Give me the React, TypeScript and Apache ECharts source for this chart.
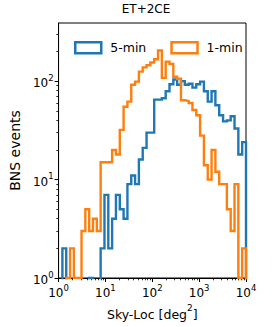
import React, { useEffect, useRef } from "react";
import * as echarts from "echarts";

const TITLE = "ET+2CE";
const SERIES_NAMES = ["5-min", "1-min"];
const SERIES_COLORS = ["#1f77b4", "#ff7f0e"];
const Y_NAME = "BNS events";
const X_NAME_MAIN = "Sky-Loc [deg";
const X_NAME_SUP = "2";
const X_NAME_END = "]";

// histogram binning: 49 log-spaced bins between 10^0 and 10^4
const BIN_EXP_MIN = 0;
const BIN_EXP_MAX = 4;
const N_BINS = 49;

// counts per bin
const fiveMinCounts = [
  0, 2, 0, 0, 0, 0, 0, 0, 1, 0,
  0, 2, 7, 2, 4, 7, 5, 4, 9, 11,
  9, 16, 21, 30, 30, 65, 65, 67, 79, 93,
  104, 92, 100, 92, 94, 86, 93, 99, 79, 62,
  79, 57, 45, 39, 40, 44, 33, 18, 24,
];
const oneMinCounts = [
  0, 0, 1, 2, 1, 1, 3, 5, 3, 4,
  3, 15, 15, 15, 20, 18, 32, 55, 62, 92,
  99, 125, 138, 145, 155, 167, 205, 108, 158, 150,
  111, 106, 64, 63, 60, 51, 45, 28, 14, 10,
  20, 12, 9, 9, 5, 3, 9, 1, 2,
];

const X_MIN = 1;
const X_MAX = 10000;
const Y_MIN = 1;
const Y_MAX = 390;
const X_MAJOR = [1, 10, 100, 1000, 10000];
const Y_MAJOR = [1, 10, 100];
const MINOR_MULTIPLIERS = [2, 3, 4, 5, 6, 7, 8, 9];

const FONT = "DejaVu Sans";
const FLOOR = 0.05; // zero counts fall below the log axis and get clipped

function minorTicks(majors: number[], max: number) {
  const out: number[] = [];
  majors.forEach((m) => MINOR_MULTIPLIERS.forEach((k) => { if (m * k < max) out.push(m * k); }));
  return out;
}

function stepData(counts: number[]) {
  const edges: number[] = [];
  for (let i = 0; i <= N_BINS; i++) edges.push(Math.pow(10, BIN_EXP_MIN + ((BIN_EXP_MAX - BIN_EXP_MIN) * i) / N_BINS));
  const pts: number[][] = [[edges[0], FLOOR]];
  counts.forEach((c, i) => {
    const v = c > 0 ? c : FLOOR;
    pts.push([edges[i], v], [edges[i + 1], v]);
  });
  pts.push([edges[N_BINS], FLOOR]);
  return pts;
}

const supRich = {
  b: { fontSize: 12, fontFamily: FONT, color: "#000", lineHeight: 16, verticalAlign: "bottom" },
  s: { fontSize: 8.5, fontFamily: FONT, color: "#000", lineHeight: 16, verticalAlign: "top" },
};
const nameRich = {
  b: { fontSize: 12.5, fontFamily: FONT, color: "#000", lineHeight: 17, verticalAlign: "bottom" },
  s: { fontSize: 9, fontFamily: FONT, color: "#000", lineHeight: 17, verticalAlign: "top" },
};

const powLabel = (v: number) => `{b|10}{s|${Math.round(Math.log10(v))}}`;

export default function App() {
  const ref = useRef<HTMLDivElement>(null);
  useEffect(() => {
    if (!ref.current) return;
    const chart = echarts.init(ref.current, null, { renderer: "svg" });
    const grid = { left: 46, top: 23, width: 200, height: 255 };
    chart.setOption({
      animation: false,
      textStyle: { fontFamily: FONT },
      title: {
        text: TITLE,
        left: 146,
        top: 3,
        textAlign: "center",
        padding: 0,
        textStyle: { fontSize: 12, fontWeight: "normal", color: "#000", fontFamily: FONT },
      },
      legend: {
        top: 36,
        left: 69,
        itemWidth: 26,
        itemHeight: 11,
        itemGap: 24,
        selectedMode: false,
        textStyle: { fontSize: 12.5, fontFamily: FONT, color: "#000", padding: [0, 0, 0, 4] },
        data: SERIES_NAMES.map((n, i) => ({
          name: n,
          icon: "rect",
          itemStyle: { color: "rgba(0,0,0,0)", borderColor: SERIES_COLORS[i], borderWidth: 2.5 },
        })),
      },
      grid: { ...grid, show: true, borderColor: "#000", borderWidth: 1, backgroundColor: "rgba(0,0,0,0)" },
      xAxis: [
        {
          type: "log",
          logBase: 10,
          min: X_MIN,
          max: X_MAX,
          position: "bottom",
          axisLine: { show: true, lineStyle: { color: "#000", width: 1 } },
          axisTick: { show: true, customValues: X_MAJOR, length: 4, lineStyle: { color: "#000", width: 1 } },
          axisLabel: {
            customValues: X_MAJOR,
            formatter: powLabel,
            margin: 5,
            rich: supRich,
          },
          splitLine: { show: false },
          minorTick: { show: false },
          name: `{b|${X_NAME_MAIN}}{s|${X_NAME_SUP}}{b|${X_NAME_END}}`,
          nameLocation: "middle",
          nameGap: 24,
          nameTextStyle: { rich: nameRich, verticalAlign: "top" },
        },
        {
          type: "log",
          logBase: 10,
          min: X_MIN,
          max: X_MAX,
          position: "bottom",
          axisLine: { show: false },
          axisTick: { show: true, customValues: minorTicks(X_MAJOR, X_MAX), length: 2.3, lineStyle: { color: "#000", width: 0.8 } },
          axisLabel: { show: false },
          splitLine: { show: false },
        },
      ],
      yAxis: [
        {
          type: "log",
          logBase: 10,
          min: Y_MIN,
          max: Y_MAX,
          position: "left",
          axisLine: { show: true, lineStyle: { color: "#000", width: 1 } },
          axisTick: { show: true, customValues: Y_MAJOR, length: 4, lineStyle: { color: "#000", width: 1 } },
          axisLabel: {
            customValues: Y_MAJOR,
            formatter: powLabel,
            margin: 5,
            rich: supRich,
          },
          splitLine: { show: false },
          minorTick: { show: false },
          name: Y_NAME,
          nameLocation: "middle",
          nameGap: 31,
          nameTextStyle: { fontSize: 14, fontFamily: FONT, color: "#000" },
        },
        {
          type: "log",
          logBase: 10,
          min: Y_MIN,
          max: Y_MAX,
          position: "left",
          axisLine: { show: false },
          axisTick: { show: true, customValues: minorTicks(Y_MAJOR, Y_MAX), length: 2.3, lineStyle: { color: "#000", width: 0.8 } },
          axisLabel: { show: false },
          splitLine: { show: false },
        },
      ],
      series: [fiveMinCounts, oneMinCounts].map((counts, i) => ({
        name: SERIES_NAMES[i],
        type: "line",
        xAxisIndex: 0,
        yAxisIndex: 0,
        data: stepData(counts),
        showSymbol: false,
        symbol: "none",
        clip: true,
        lineStyle: { color: SERIES_COLORS[i], width: 2.4, join: "miter" },
        itemStyle: { color: SERIES_COLORS[i] },
        z: 2 + i,
      })),
    });
    return () => chart.dispose();
  }, []);
  return <div ref={ref} style={{ position: "absolute", left: 0, top: 0, width: 274, height: 327 }} />;
}
